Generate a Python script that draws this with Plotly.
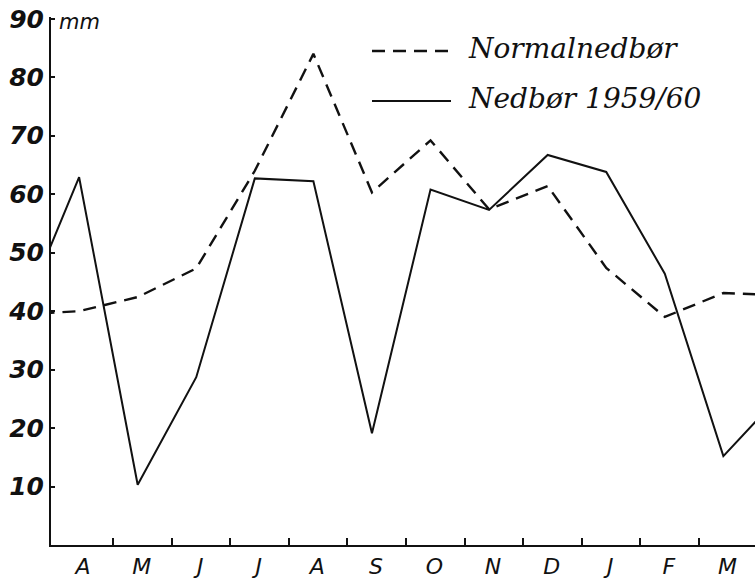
import plotly.graph_objects as go

months = ["A", "M", "J", "J", "A", "S", "O", "N", "D", "J", "F", "M"]
normal = [40.0, 42.4, 47.3, 64.0, 84.0, 60.3, 69.2, 57.4, 61.4, 47.4, 39.0, 43.1]
precip = [62.9, 10.3, 28.7, 62.7, 62.2, 19.1, 60.8, 57.3, 66.7, 63.8, 46.4, 15.2]
# neighbouring months outside the drawn window (line runs off both edges)
normal_before, normal_after = 39.4, 42.7
precip_before, precip_after = 38.7, 25.9
y_ticks = [10, 20, 30, 40, 50, 60, 70, 80, 90]
legend_names = ["Normalnedbør", "Nedbør 1959/60"]

W, H = 755, 584
L, R, T, B = 51, 0, 17, 39

xs = list(range(-1, len(months) + 1))
ys_norm = [normal_before] + normal + [normal_after]
ys_prec = [precip_before] + precip + [precip_after]

fig = go.Figure()
fig.add_trace(go.Scatter(x=xs, y=ys_norm, mode="lines", name=legend_names[0],
                         line=dict(color="#111", width=2.4, dash="13px,8px"),
                         showlegend=False))
fig.add_trace(go.Scatter(x=xs, y=ys_prec, mode="lines", name=legend_names[1],
                         line=dict(color="#111", width=2),
                         showlegend=False))

pw, ph = W - L - R, H - T - B
def px(xp):
    return (xp - L) / pw
def py(yp):
    return (H - B - yp) / ph

shapes = [
    dict(type="line", xref="paper", yref="paper", x0=px(372), x1=px(449),
         y0=py(51), y1=py(51), line=dict(color="#111", width=2.4, dash="13px,8px")),
    dict(type="line", xref="paper", yref="paper", x0=px(372), x1=px(451),
         y0=py(101), y1=py(101), line=dict(color="#111", width=2)),
]
legend_font = dict(family="DejaVu Serif", size=28, color="#111", style="italic")
annotations = [
    dict(text=legend_names[0], xref="paper", yref="paper", x=px(466), y=py(48),
         xanchor="left", yanchor="middle", showarrow=False, font=legend_font),
    dict(text=legend_names[1], xref="paper", yref="paper", x=px(466), y=py(99),
         xanchor="left", yanchor="middle", showarrow=False, font=legend_font),
    dict(text="mm", xref="paper", yref="paper", x=px(57), y=py(22),
         xanchor="left", yanchor="middle", showarrow=False,
         font=dict(family="DejaVu Sans", size=21, color="#111", style="italic")),
]

fig.update_layout(
    width=W, height=H,
    margin=dict(l=L, r=R, t=T, b=B),
    paper_bgcolor="white", plot_bgcolor="white",
    shapes=shapes, annotations=annotations,
    xaxis=dict(range=[-0.48, 11.54], showgrid=False, zeroline=False,
               showline=True, linecolor="#111", linewidth=2,
               tickvals=list(range(len(months))), ticktext=months,
               ticks="", ticklabelshift=4, ticklabelstandoff=1, automargin=False,
               tickfont=dict(family="DejaVu Sans", size=22, color="#111", style="italic"),
               minor=dict(tickvals=[k + 0.58 for k in range(len(months) - 1)],
                          ticks="inside", ticklen=7, tickwidth=2, tickcolor="#111")),
    yaxis=dict(range=[0, 90.3], showgrid=False, zeroline=False,
               showline=True, linecolor="#111", linewidth=2,
               tickvals=y_ticks, ticks="inside", ticklen=4, tickwidth=1.5,
               tickcolor="#111", automargin=False,
               tickfont=dict(family="DejaVu Sans", size=25, color="#111",
                             style="italic", weight="bold")),
)

fig.write_html("out.html", config={"displayModeBar": False},
               post_script="document.body.style.margin='0';document.body.style.overflow='hidden';")
